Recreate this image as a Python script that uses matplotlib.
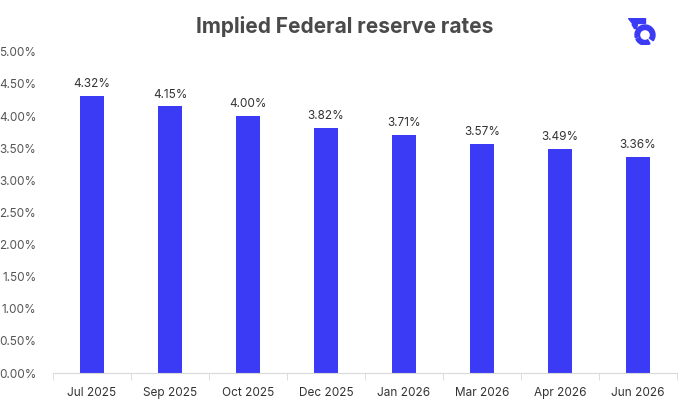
import matplotlib.pyplot as plt
from matplotlib.patches import Wedge, Polygon
from matplotlib.ticker import FuncFormatter

months = ["Jul 2025", "Sep 2025", "Oct 2025", "Dec 2025", "Jan 2026", "Mar 2026", "Apr 2026", "Jun 2026"]
rates = [4.32, 4.15, 4.00, 3.82, 3.71, 3.57, 3.49, 3.36]

plt.rcParams['font.family'] = ['Inter', 'DejaVu Sans']
blue = '#3b3bf5'

fig = plt.figure(figsize=(6.9, 4.05), dpi=100)
ax = fig.add_axes([0.0768, 0.079, 0.904, 0.793])

x = range(len(months))
ax.bar(x, rates, width=0.31, color=blue)
for i, v in enumerate(rates):
    ax.text(i, v + 0.09, f"{v:.2f}%", ha='center', va='bottom', fontsize=8.5, color='#333333')

ax.set_xlim(-0.5, len(months) - 0.5)
ax.set_ylim(0, 5)
ax.set_yticks([i * 0.5 for i in range(11)])
ax.yaxis.set_major_formatter(FuncFormatter(lambda v, p: f"{v:.2f}%"))
ax.set_xticks(list(x))
ax.set_xticklabels(months)
ax.set_xticks([i - 0.5 for i in range(len(months) + 1)], minor=True)
ax.tick_params(axis='x', which='major', length=0, pad=10, labelsize=8.5, labelcolor='#333333')
ax.tick_params(axis='x', which='minor', length=5, color='#d9d9d9')
ax.tick_params(axis='y', length=0, pad=12, labelsize=8.5, labelcolor='#555555')
for s in ['top', 'right', 'left']:
    ax.spines[s].set_visible(False)
ax.spines['bottom'].set_color('#d9d9d9')

fig.text(0.5, 0.935, "Implied Federal reserve rates", ha='center', va='center',
         fontsize=15, fontweight='bold', color='#4a4a4a')

# logo, drawn in a small pixel-sized box
lax = fig.add_axes([628 / 690, 1 - 45 / 405, 28 / 690, 27 / 405])
lax.set_xlim(0, 28)
lax.set_ylim(0, 27)
lax.axis('off')
lax.add_patch(Wedge((17, 10), 10, -35, 195, width=4.5, color=blue))
lax.add_patch(Wedge((17, 10), 10, 205, 300, width=4.5, color=blue))
lax.add_patch(Polygon([[0, 27], [17, 27], [17, 22], [3.5, 22]], color=blue))
lax.add_patch(Polygon([[4, 20.5], [9.5, 20.5], [8.5, 16.5], [6.5, 16.5]], color=blue))

fig.savefig('out.png', dpi=100, facecolor='white')
